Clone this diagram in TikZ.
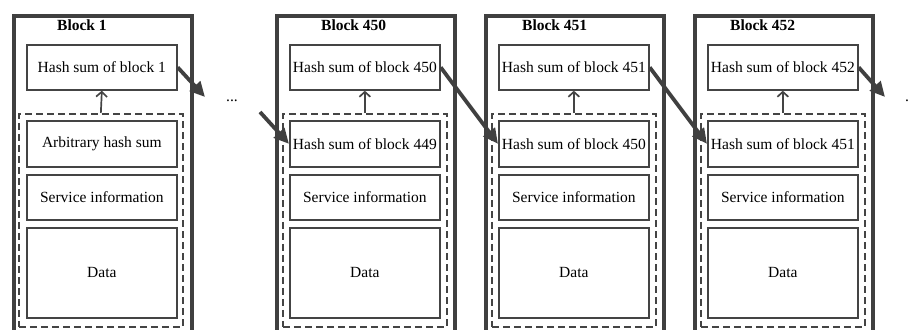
\documentclass[tikz,border=0pt]{standalone}
\usepackage{fontspec}
\setmainfont{Liberation Serif}
\usetikzlibrary{arrows.meta}
\definecolor{dk}{HTML}{404040}
\definecolor{bx}{HTML}{444444}
\begin{document}
\begin{tikzpicture}[x=1pt,y=-1pt,
  font=\fontsize{15.5}{18}\selectfont,
  outer/.style={draw=dk, line width=3.8pt, minimum width=178pt, minimum height=340pt, anchor=north west, inner sep=0pt},
  box/.style={draw=bx, line width=1.7pt, minimum width=150pt, anchor=north west, inner sep=0pt},
  dbox/.style={draw=bx, line width=1.7pt, dash pattern=on 7pt off 4pt, minimum width=164pt, minimum height=213pt, anchor=north west, inner sep=0pt},
  title/.style={font=\fontsize{15.5}{18}\selectfont\bfseries, anchor=base west, inner sep=0pt},
  link/.style={draw=dk, line width=3.8pt, -{Triangle[length=15pt,width=14pt]}},
  up/.style={draw=bx, line width=1.7pt, -{Straight Barb[length=5pt,width=11pt]}},
  dots/.style={anchor=base west, inner sep=0pt}
]
\useasboundingbox (0,0) rectangle (909,329);
\clip (0,0) rectangle (909,329);

% ---------- Block 1 ----------
\node[outer] (o1) at (12,14) {};
\node[title] (t1) at (57,31) {Block 1};
\node[box, minimum height=45pt] (h1) at (26,44) {Hash sum of block 1};
\node[dbox] (d1) at (18,113) {};
\node[box, minimum height=46pt] (a1) at (26,120) {Arbitrary hash sum};
\node[box, minimum height=45pt] (s1) at (26,174) {Service information};
\node[box, minimum height=90pt] (x1) at (26,227) {Data};
\draw[up] (d1.north) -- (h1.south);

% ---------- Block 450 ----------
\node[outer] (o450) at (275,14) {};
\node[title] (t450) at (321,31) {Block 450};
\node[box, minimum height=45pt] (h450) at (289,44) {Hash sum of block 450};
\node[dbox] (d450) at (282,113) {};
\node[box, minimum height=46pt] (p450) at (289,120) {Hash sum of block 449};
\node[box, minimum height=45pt] (s450) at (289,174) {Service information};
\node[box, minimum height=90pt] (x450) at (289,227) {Data};
\draw[up] (d450.north) -- (h450.south);

% ---------- Block 451 ----------
\node[outer] (o451) at (484,14) {};
\node[title] (t451) at (522,31) {Block 451};
\node[box, minimum height=45pt] (h451) at (498,44) {Hash sum of block 451};
\node[dbox] (d451) at (491,113) {};
\node[box, minimum height=46pt] (p451) at (498,120) {Hash sum of block 450};
\node[box, minimum height=45pt] (s451) at (498,174) {Service information};
\node[box, minimum height=90pt] (x451) at (498,227) {Data};
\draw[up] (d451.north) -- (h451.south);

% ---------- Block 452 ----------
\node[outer] (o452) at (693,14) {};
\node[title] (t452) at (730,31) {Block 452};
\node[box, minimum height=45pt] (h452) at (707,44) {Hash sum of block 452};
\node[dbox] (d452) at (700,113) {};
\node[box, minimum height=46pt] (p452) at (707,120) {Hash sum of block 451};
\node[box, minimum height=45pt] (s452) at (707,174) {Service information};
\node[box, minimum height=90pt] (x452) at (707,227) {Data};
\draw[up] (d452.north) -- (h452.south);

% ---------- dots ----------
\node[dots] (dl) at (226,101) {...};
\node[dots] (dr) at (905,101) {...};

% ---------- links ----------
\coordinate (c1) at (205,97);
\coordinate (c2) at (260,112);
\coordinate (c3) at (885,97);
\draw[link] (h1.east) -- (c1);
\draw[link] (c2) -- (p450.west);
\draw[link] (h450.east) -- (p451.west);
\draw[link] (h451.east) -- (p452.west);
\draw[link] (h452.east) -- (c3);
\end{tikzpicture}
\end{document}
